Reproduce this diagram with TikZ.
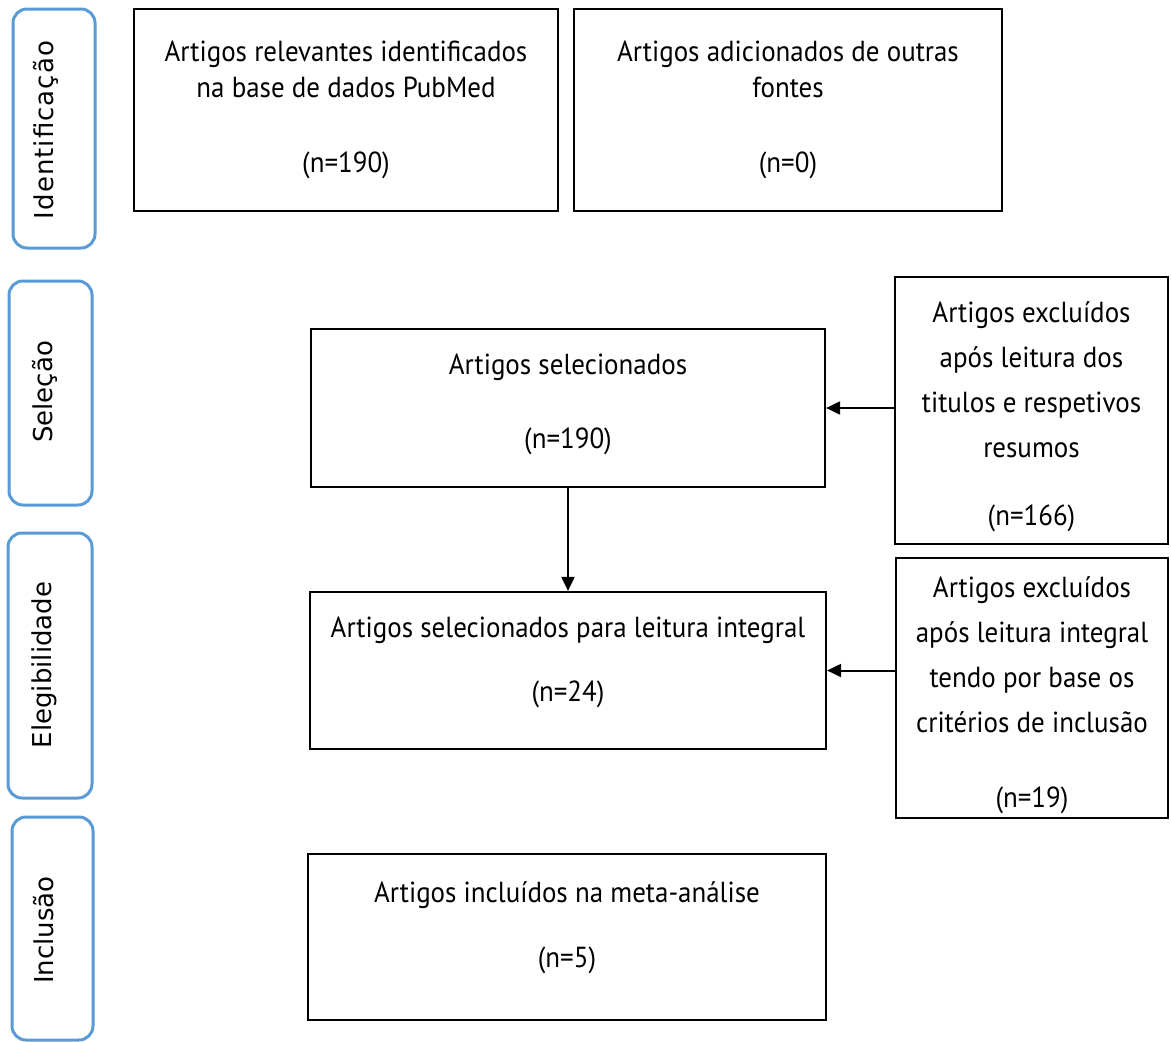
\documentclass[tikz,border=0pt]{standalone}
\usepackage{fontspec}
\setmainfont{PT Sans}[FakeStretch=0.93]
\newfontfamily\sidefont{DejaVu Sans}
\newfontfamily\sidefontwide{DejaVu Sans}[LetterSpace=4]
\usetikzlibrary{arrows.meta}
\definecolor{sideblue}{HTML}{5B9BD5}
\begin{document}
\begin{tikzpicture}[x=1pt,y=-1pt,
  box/.style={draw=black, line width=2.2pt, inner sep=0pt},
  txt/.style={align=center, inner sep=0pt, font=\fontsize{29}{36}\selectfont},
  rtxt/.style={txt, font=\fontsize{29}{45}\selectfont},
  side/.style={draw=sideblue, line width=3pt, rounded corners=14pt, inner sep=0pt},
  sidelabel/.style={rotate=90, anchor=base, inner sep=0pt,
    font=\sidefont\fontsize{26}{30}\selectfont},
  arr/.style={line width=2pt, -{Triangle[length=14pt,width=13pt]}}]
\useasboundingbox (0,0) rectangle (1171,1042);
\fill[white] (0,0) rectangle (1171,1042);

% side phase boxes
\node[side, minimum width=82pt, minimum height=239pt] (sid) at (54,128.5) {};
\node[side, minimum width=83pt, minimum height=224pt] (ssel) at (50.5,393) {};
\node[side, minimum width=84pt, minimum height=265pt] (sel2) at (50,665.5) {};
\node[side, minimum width=81pt, minimum height=223pt] (sinc) at (52.5,928.5) {};
\node[sidelabel, font=\sidefontwide\fontsize{26}{30}\selectfont] (lid) at (53,130) {Identificação};
\node[sidelabel] (lsel) at (52,392) {Seleção};
\node[sidelabel] (lel) at (51,665) {Elegibilidade};
\node[sidelabel] (linc) at (53,930) {Inclusão};

% main boxes
\node[box, minimum width=424pt, minimum height=202pt] (b1) at (346,110) {};
\node[box, minimum width=428pt, minimum height=202pt] (b2) at (788,110) {};
\node[box, minimum width=514pt, minimum height=158pt] (s) at (568,408) {};
\node[box, minimum width=516pt, minimum height=157pt] (l) at (568,670.5) {};
\node[box, minimum width=518pt, minimum height=166pt] (m) at (567,937) {};
\node[box, minimum width=273pt, minimum height=267pt] (r1) at (1031.5,410.5) {};
\node[box, minimum width=272pt, minimum height=260pt] (r2) at (1032,688) {};

% texts
\node[txt] (b1t) at (b1.center)
  {Artigos relevantes identificados\\ na base de dados PubMed\\[39pt] (n=190)};
\node[txt] (b2t) at (b2.center)
  {Artigos adicionados de outras\\ fontes\\[39pt] (n=0)};
\node[txt] (st) at ([yshift=4pt]s.center)
  {Artigos selecionados\\[38pt] (n=190)};
\node[txt] (lt) at ([yshift=8pt]l.center)
  {Artigos selecionados para leitura integral\\[28pt] (n=24)};
\node[txt] (mt) at ([yshift=9pt]m.center)
  {Artigos incluídos na meta-análise\\[29pt] (n=5)};
\node[rtxt] (r1t) at ([yshift=-6pt]r1.center)
  {Artigos excluídos\\ após leitura dos\\ titulos e respetivos\\ resumos\\[23pt] (n=166)};
\node[rtxt] (r2t) at ([yshift=-7pt]r2.center)
  {Artigos excluídos\\ após leitura integral\\ tendo por base os\\ critérios de inclusão\\[30pt] (n=19)};

% connectors
\draw[arr] (r1.west |- s.east) -- (s.east);
\draw[arr] (r2.west |- l.east) -- (l.east);
\draw[arr] (s.south) -- (l.north);
\end{tikzpicture}
\end{document}
